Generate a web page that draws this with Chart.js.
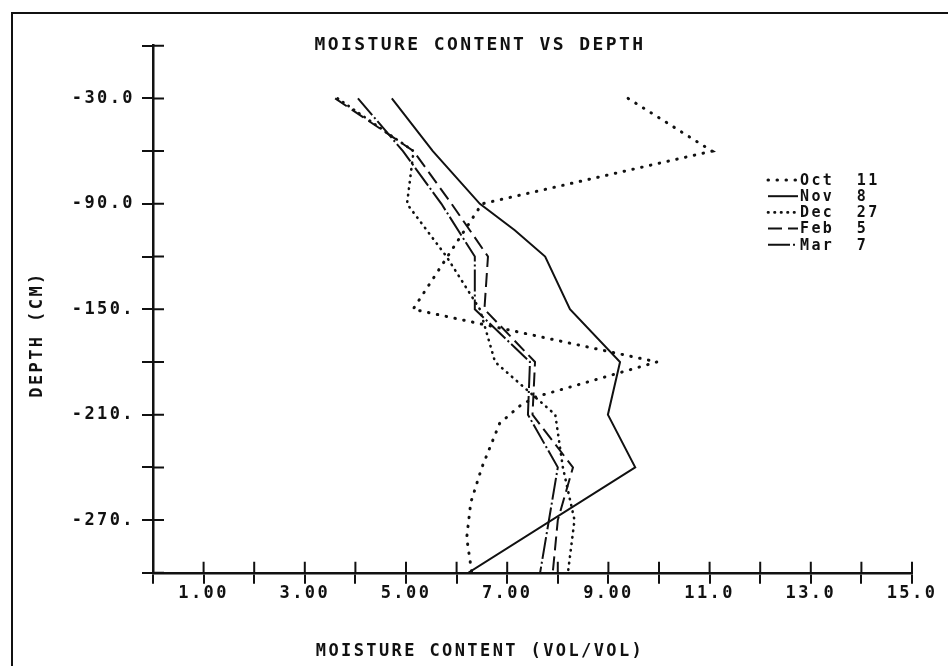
<!DOCTYPE html>
<html>
<head>
<meta charset="utf-8">
<title>Moisture content vs depth</title>
<script src="https://cdn.jsdelivr.net/npm/chart.js@4.4.1/dist/chart.umd.min.js"></script>
<style>
  html, body { margin: 0; padding: 0; background: #fff; overflow: hidden; }
  #wrap { position: relative; width: 948px; height: 666px; }
  #frame { position: absolute; left: 11px; top: 12px; width: 960px; height: 700px; border: 2px solid #111; pointer-events: none; }
  canvas { position: absolute; left: 0; top: 0; }
</style>
</head>
<body>
<div id="wrap">
  <canvas id="chart" width="948" height="666"></canvas>
  <div id="frame"></div>
</div>
<script>
// depth (cm) and moisture content (vol/vol), one pair of arrays per date
const oct11Depth = [-30, -60, -90, -150, -180, -200, -205, -215, -240, -260, -280, -300];
const oct11Moisture = [9.39, 11.05, 6.5, 5.14, 9.96, 7.55, 7.25, 6.85, 6.5, 6.28, 6.2, 6.3];

const nov8Depth = [-30, -60, -90, -105, -120, -150, -180, -210, -240, -300];
const nov8Moisture = [4.72, 5.53, 6.46, 7.15, 7.75, 8.24, 9.23, 8.99, 9.53, 6.23];

const dec27Depth = [-30, -60, -90, -120, -150, -180, -210, -240, -270, -300];
const dec27Moisture = [3.65, 5.15, 5.02, 5.8, 6.46, 6.76, 7.95, 8.1, 8.33, 8.2];

const feb5Depth = [-30, -60, -90, -120, -150, -180, -210, -240, -270, -300];
const feb5Moisture = [3.6, 5.15, 5.9, 6.62, 6.55, 7.55, 7.5, 8.3, 8.0, 7.9];

const mar7Depth = [-30, -60, -90, -120, -150, -180, -210, -240, -300];
const mar7Moisture = [4.05, 4.94, 5.7, 6.36, 6.36, 7.45, 7.41, 8.0, 7.65];

const seriesNames = ['Oct 11', 'Nov 8', 'Dec 27', 'Feb 5', 'Mar 7'];

// only some ticks carry a label, in the plotter's own number format
const xLabelValues = [1, 3, 5, 7, 9, 11, 13, 15];
const xLabelText = ['1.00', '3.00', '5.00', '7.00', '9.00', '11.0', '13.0', '15.0'];
const yLabelValues = [-30, -90, -150, -210, -270];
const yLabelText = ['-30.0', '-90.0', '-150.', '-210.', '-270.'];

const INK = '#111';
const FONT = '"DejaVu Sans Mono", monospace';

function points(depths, values) {
    return depths.map((d, i) => ({ x: values[i], y: d }));
}

function lineStyle(label, data, dash, width, cap) {
    return {
        label: label,
        data: data,
        showLine: true,
        borderColor: INK,
        backgroundColor: INK,
        borderWidth: width,
        borderDash: dash,
        borderCapStyle: cap || 'butt',
        pointRadius: 0,
        tension: 0
    };
}

// the plotter style lettering is wide, so space the glyphs out
const spacing = {
    id: 'spacing',
    afterInit(chart) { chart.ctx.letterSpacing = '2.4px'; },
    beforeLayout(chart) { chart.ctx.letterSpacing = '2.4px'; },
    beforeDraw(chart) { chart.ctx.letterSpacing = '2.4px'; }
};

// tick marks cross the axis line: draw the inner half here
const crossTicks = {
    id: 'crossTicks',
    afterDraw(chart) {
        const { ctx, scales: { x, y } } = chart;
        ctx.save();
        ctx.strokeStyle = INK;
        ctx.lineWidth = 2;
        ctx.beginPath();
        x.ticks.forEach(t => {
            const px = x.getPixelForValue(t.value);
            ctx.moveTo(px, y.bottom);
            ctx.lineTo(px, y.bottom - 11);
        });
        y.ticks.forEach(t => {
            const py = y.getPixelForValue(t.value);
            ctx.moveTo(x.left, py);
            ctx.lineTo(x.left + 11, py);
        });
        ctx.stroke();
        ctx.restore();
    }
};

// legend sits inside the plot, right of the curves
const plotLegend = {
    id: 'plotLegend',
    afterDatasetsDraw(chart) {
        const ctx = chart.ctx;
        const left = 768, sample = 30, top = 180, gap = 16.2;
        ctx.save();
        ctx.font = 'bold 15px ' + FONT;
        ctx.letterSpacing = '2.4px';
        ctx.wordSpacing = '11px';
        ctx.textBaseline = 'middle';
        ctx.textAlign = 'left';
        ctx.fillStyle = INK;
        chart.data.datasets.forEach((ds, i) => {
            const ry = top + i * gap;
            ctx.strokeStyle = INK;
            ctx.lineWidth = ds.borderWidth;
            ctx.lineCap = ds.borderCapStyle;
            ctx.setLineDash(ds.borderDash);
            ctx.beginPath();
            ctx.moveTo(left, ry);
            ctx.lineTo(left + sample, ry);
            ctx.stroke();
            ctx.setLineDash([]);
            ctx.fillText(ds.label, left + sample + 2, ry + 1);
        });
        ctx.restore();
    }
};

Chart.defaults.font.family = FONT;
Chart.defaults.color = INK;

new Chart(document.getElementById('chart'), {
    type: 'scatter',
    data: {
        datasets: [
            lineStyle(seriesNames[0], points(oct11Depth, oct11Moisture), [0.5, 8.5], 3, 'round'),
            lineStyle(seriesNames[1], points(nov8Depth, nov8Moisture), [], 2),
            lineStyle(seriesNames[2], points(dec27Depth, dec27Moisture), [0.5, 6], 2.6, 'round'),
            lineStyle(seriesNames[3], points(feb5Depth, feb5Moisture), [14, 6], 2),
            lineStyle(seriesNames[4], points(mar7Depth, mar7Moisture), [22, 3, 2, 3], 2)
        ]
    },
    options: {
        responsive: false,
        animation: false,
        devicePixelRatio: 1,
        layout: { padding: { left: 24, right: 12, top: 0, bottom: 0 } },
        plugins: {
            legend: { display: false },
            tooltip: { enabled: false },
            title: {
                display: true,
                text: 'MOISTURE CONTENT VS DEPTH',
                color: INK,
                font: { family: FONT, size: 18, weight: 'bold' },
                padding: { top: 35, bottom: -10.9 }
            },
            subtitle: {
                display: true,
                position: 'bottom',
                text: 'MOISTURE CONTENT (VOL/VOL)',
                color: INK,
                font: { family: FONT, size: 17, weight: 'bold' },
                padding: { top: 28.5, bottom: 4.3 }
            }
        },
        scales: {
            x: {
                type: 'linear',
                position: 'bottom',
                min: 0,
                max: 15,
                afterFit(s) { s.height = 40; },
                border: { display: true, color: INK, width: 2.5 },
                grid: { display: true, drawOnChartArea: false, drawTicks: true, tickLength: 11, color: INK, lineWidth: 2 },
                ticks: {
                    stepSize: 1,
                    autoSkip: false,
                    maxRotation: 0,
                    padding: 0,
                    color: INK,
                    font: { family: FONT, size: 17, weight: 'bold' },
                    callback: v => {
                        const i = xLabelValues.indexOf(v);
                        return i >= 0 ? xLabelText[i] : '';
                    }
                }
            },
            y: {
                type: 'linear',
                position: 'left',
                min: -300,
                max: 0,
                afterFit(s) { s.width = 129; },
                border: { display: true, color: INK, width: 2.5 },
                grid: { display: true, drawOnChartArea: false, drawTicks: true, tickLength: 11, color: INK, lineWidth: 2 },
                title: {
                    display: true,
                    text: 'DEPTH (CM)    ',
                    color: INK,
                    font: { family: FONT, size: 17, weight: 'bold' },
                    padding: { top: 3, bottom: 0 }
                },
                ticks: {
                    stepSize: 30,
                    autoSkip: false,
                    padding: 7,
                    color: INK,
                    font: { family: FONT, size: 17, weight: 'bold' },
                    callback: v => {
                        const i = yLabelValues.indexOf(v);
                        return i >= 0 ? yLabelText[i] : '';
                    }
                }
            },
            yPad: {
                type: 'linear',
                position: 'right',
                display: true,
                afterFit(s) { s.width = 24; },
                border: { display: false },
                grid: { display: false },
                ticks: { display: false }
            }
        }
    },
    plugins: [spacing, crossTicks, plotLegend]
});
</script>
</body>
</html>
